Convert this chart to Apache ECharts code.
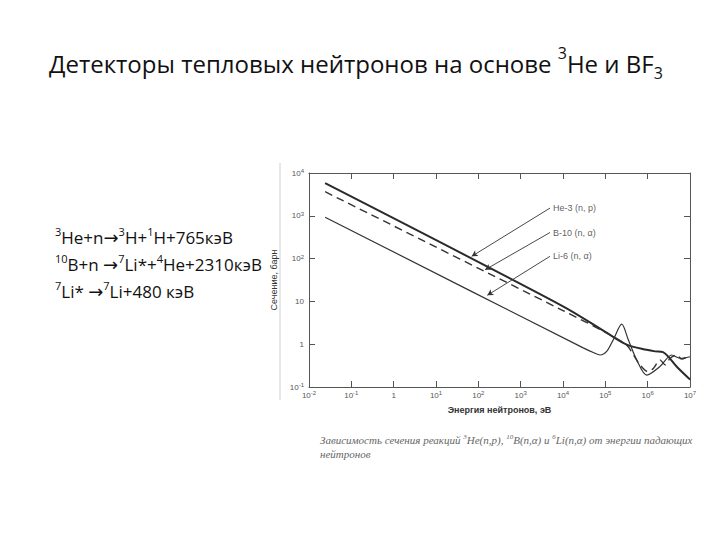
<!DOCTYPE html>
<html>
<head>
<meta charset="utf-8">
<script src="https://cdn.jsdelivr.net/npm/echarts@6/dist/echarts.min.js"></script>
<style>html,body{margin:0;padding:0;background:#fff}#c{width:720px;height:540px}</style>
</head>
<body>
<div id="c"></div>
<script>
// ---- data (energy in eV, cross section in barn) ----
const he3E = [0.024, 1e4, 1.07e5, 3.2e5, 9.5e5, 1.5e6, 2.3e6, 5e6, 1e7];
const he3S = [5780, 7.7, 1.86, 0.98, 0.74, 0.68, 0.65, 0.29, 0.15];

const b10E = [0.024, 1e4, 1e5, 3.2e5, 4.6e5, 6.6e5, 1e6, 1.36e6, 1.95e6, 2.6e6, 3.4e6, 4.9e6, 6.3e6, 1e7];
const b10S = [3650, 6.1, 1.9, 0.95, 0.56, 0.33, 0.23, 0.27, 0.43, 0.33, 0.47, 0.56, 0.45, 0.54];

const li6E = [0.024, 3e4, 5.2e4, 7.5e4, 1.1e5, 1.55e5, 2.44e5, 3.47e5, 5.5e5, 9.5e5, 1.95e6, 3.7e6, 5.75e6, 1e7];
const li6S = [927, 0.82, 0.64, 0.56, 0.7, 1.29, 2.93, 1.29, 0.43, 0.19, 0.30, 0.56, 0.47, 0.51];

const seriesNames = ['He-3 (n, p)', 'B-10 (n, α)', 'Li-6 (n, α)'];
// leader lines: label anchor -> point on curve
const leaderFromE = [4930, 4930, 4930];
const leaderFromS = [1514, 407, 113];
const leaderToE = [69.7, 144, 163];
const leaderToS = [113, 54.7, 13.9];

const titleText = 'Детекторы тепловых нейтронов на основе {sup|3}He и BF{sub|3}';
const reactions = [
  '{s|3}He+n{a|→}{s|3}H+{s|1}H+765кэВ',
  '{s|10}B+n {a|→}{s|7}Li*+{s|4}He+2310кэВ',
  '{s|7}Li* {a|→}{s|7}Li+480 кэВ'
];
const captionLines = [
  'Зависимость сечения реакций {s|3}He(n,p), {s|10}B(n,α) и {s|6}Li(n,α) от энергии падающих',
  'нейтронов'
];
const xName = 'Энергия нейтронов, эВ';
const yName = 'Сечение, барн';

// ---- chart ----
const zip = (a, b) => a.map((v, i) => [v, b[i]]);
const lg = v => Math.round(Math.log10(v));

const chart = echarts.init(document.getElementById('c'), null, {renderer: 'svg'});
const axisCol = '#555';
const tickFont = {fontSize: 8, color: '#555', fontFamily: 'Liberation Sans'};
const supRich = {s: {fontSize: 6, color: '#555', verticalAlign: 'top', lineHeight: 10, fontFamily: 'Liberation Sans'}, n: {fontSize: 8, color: '#555', lineHeight: 10, fontFamily: 'Liberation Sans'}};

function xFmt(v) {
  const n = lg(v);
  if (n === 0) return '{n|1}';
  return '{n|10}{s|' + n + '}';
}
function yFmt(v) {
  const n = lg(v);
  if (n === 0) return '{n|1}';
  if (n === 1) return '{n|10}';
  return '{n|10}{s|' + n + '}';
}

const baseX = {
  type: 'log', logBase: 10, min: 0.01, max: 1e7, interval: 1,
  axisLine: {show: true, lineStyle: {color: axisCol, width: 1}},
  axisTick: {show: true, inside: true, length: 6, lineStyle: {color: axisCol}},
  splitLine: {show: false}, minorTick: {show: false}
};
const baseY = {
  type: 'log', logBase: 10, min: 0.1, max: 1e4, interval: 1,
  axisLine: {show: true, lineStyle: {color: axisCol, width: 1}},
  axisTick: {show: true, inside: true, length: 6, lineStyle: {color: axisCol}},
  splitLine: {show: false}, minorTick: {show: false}
};

const lineCol = '#2a2a2a';
const leaderSeries = leaderFromE.map((e, i) => ({
  type: 'line', silent: true, symbol: 'none', z: 3,
  data: [],
  markLine: {
    silent: true, animation: false,
    symbol: ['none', 'arrow'], symbolSize: [5, 6],
    lineStyle: {color: '#333', width: 0.9, type: 'solid'},
    label: {show: false},
    data: [[{coord: [e, leaderFromS[i]]}, {coord: [leaderToE[i], leaderToS[i]]}]]
  }
}));

chart.setOption({
  animation: false,
  backgroundColor: '#fff',
  title: {
    text: titleText, left: 44, top: 40,
    textStyle: {
      fontSize: 24, fontWeight: 'normal', color: '#111', fontFamily: 'Open Sans', lineHeight: 36,
      rich: {
        sup: {fontSize: 16, color: '#111', fontFamily: 'Open Sans', verticalAlign: 'top', lineHeight: 22},
        sub: {fontSize: 16, color: '#111', fontFamily: 'Open Sans', verticalAlign: 'bottom', lineHeight: 21}
      }
    }
  },
  grid: {left: 309, right: 30, top: 173, bottom: 153, containLabel: false},
  xAxis: [
    Object.assign({}, baseX, {
      position: 'bottom', name: xName, nameLocation: 'middle', nameGap: 18,
      nameTextStyle: {fontSize: 9, color: '#333', fontWeight: 'bold', fontFamily: 'Liberation Sans'},
      axisLabel: Object.assign({}, tickFont, {margin: 3, formatter: xFmt, rich: supRich})
    }),
    Object.assign({}, baseX, {position: 'top', axisLabel: {show: false}})
  ],
  yAxis: [
    Object.assign({}, baseY, {
      position: 'left', name: yName, nameLocation: 'middle', nameGap: 21, nameRotate: 90,
      nameTextStyle: {fontSize: 9, color: '#333', fontFamily: 'Liberation Sans'},
      axisLabel: Object.assign({}, tickFont, {margin: 5, formatter: yFmt, rich: supRich})
    }),
    Object.assign({}, baseY, {position: 'right', axisLabel: {show: false}})
  ],
  series: [
    {name: seriesNames[0], type: 'line', data: zip(he3E, he3S), symbol: 'none', smooth: 0.3,
     lineStyle: {color: lineCol, width: 2}},
    {name: seriesNames[1], type: 'line', data: zip(b10E, b10S), symbol: 'none', smooth: 0.3,
     lineStyle: {color: '#333', width: 1.4, type: [8, 5]}},
    {name: seriesNames[2], type: 'line', data: zip(li6E, li6S), symbol: 'none', smooth: 0.3,
     lineStyle: {color: '#333', width: 1.2}},
    {type: 'scatter', silent: true, symbolSize: 0,
     data: leaderFromE.map((e, i) => ({value: [e, leaderFromS[i]], name: seriesNames[i]})),
     label: {show: true, position: 'right', distance: 3, formatter: p => p.name,
             fontSize: 9, color: '#333', fontFamily: 'Liberation Sans'}}
  ].concat(leaderSeries),
  graphic: [
    {type: 'line', shape: {x1: 280, y1: 163, x2: 280, y2: 400}, style: {stroke: '#d0d0d0', lineWidth: 1}, silent: true}
  ].concat(reactions.map((t, i) => ({
    type: 'text', left: 55, top: 226 + i * 27, silent: true,
    style: {
      text: t, fontSize: 17, fill: '#111', fontFamily: 'Open Sans', lineHeight: 22,
      rich: {
        s: {fontSize: 11, fill: '#111', fontFamily: 'Open Sans', verticalAlign: 'top', lineHeight: 22},
        a: {fontSize: 18, fill: '#111', fontFamily: 'DejaVu Sans', lineHeight: 22}
      }
    }
  }))).concat(captionLines.map((t, i) => ({
    type: 'text', left: 320, top: 433 + i * 14, silent: true,
    style: {
      text: t, fontSize: 11, fill: '#666', fontFamily: 'Liberation Serif', fontStyle: 'italic', lineHeight: 14,
      rich: {s: {fontSize: 7, fill: '#666', fontFamily: 'Liberation Serif', fontStyle: 'italic', verticalAlign: 'top', lineHeight: 14}}
    }
  })))
});
</script>
</body>
</html>
